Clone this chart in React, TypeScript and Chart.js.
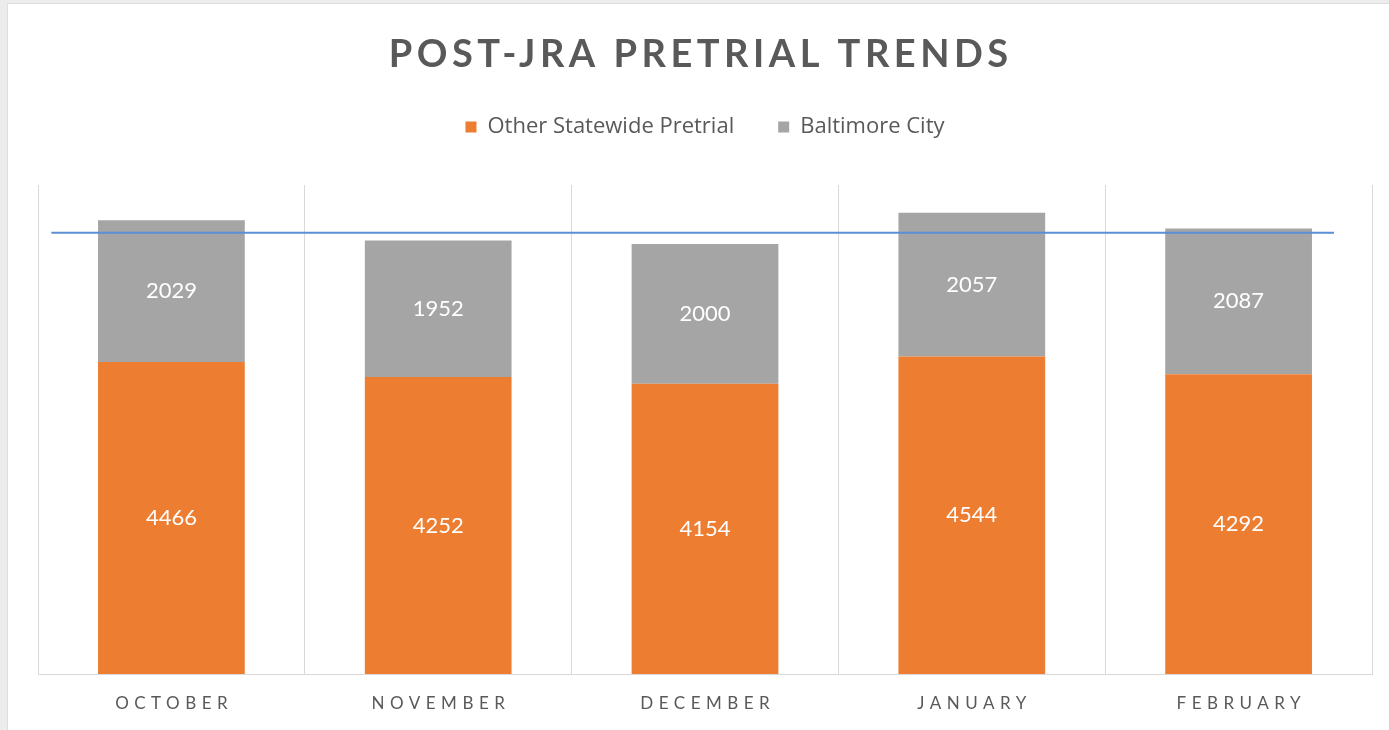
import { useEffect, useRef } from "react";
import { Chart, registerables } from "chart.js";

Chart.register(...registerables);

const TITLE = "POST-JRA PRETRIAL TRENDS";
const MONTHS = ["OCTOBER", "NOVEMBER", "DECEMBER", "JANUARY", "FEBRUARY"];
const SERIES_NAMES = ["Other Statewide Pretrial", "Baltimore City"];
const OTHER_STATEWIDE = [4466, 4252, 4154, 4544, 4292];
const BALTIMORE_CITY = [2029, 1952, 2000, 2057, 2087];
const REFERENCE_LEVEL = 6315;
const Y_MAX = 7000;

const TEXT_COLOR = "#595959";
const FONT = "Lato, 'Open Sans', sans-serif";
const LEGEND_FONT = "'Open Sans', sans-serif";

const legendGapPlugin = {
  id: "legendGap",
  beforeInit(chart: any) {
    const legend = chart.legend;
    if (!legend) return;
    const origFit = legend.fit;
    legend.fit = function () {
      origFit.call(this);
      this.height += 37;
    };
  },
};

const decorPlugin = {
  id: "decor",
  afterDatasetsDraw(chart: any) {
    const ctx = chart.ctx as CanvasRenderingContext2D;
    const ca = chart.chartArea;
    ctx.save();
    ctx.fillStyle = "#ffffff";
    ctx.font = `22px ${FONT}`;
    ctx.textAlign = "center";
    ctx.textBaseline = "middle";
    chart.data.datasets.forEach((ds: any, di: number) => {
      const meta = chart.getDatasetMeta(di);
      meta.data.forEach((bar: any, i: number) => {
        const y = (bar.y + bar.base) / 2;
        ctx.fillText(String(ds.data[i]), bar.x, y);
      });
    });
    const y = chart.scales.y.getPixelForValue(REFERENCE_LEVEL);
    const w = ca.right - ca.left;
    ctx.strokeStyle = "#5a8fd6";
    ctx.lineWidth = 2;
    ctx.beginPath();
    ctx.moveTo(ca.left + w * 0.01, y);
    ctx.lineTo(ca.right - w * 0.0285, y);
    ctx.stroke();
    ctx.restore();
  },
  afterDraw(chart: any) {
    const ctx = chart.ctx as any;
    const ca = chart.chartArea;
    ctx.save();
    ctx.fillStyle = TEXT_COLOR;
    ctx.textAlign = "center";
    ctx.textBaseline = "middle";
    const titleLs = 4.5;
    ctx.letterSpacing = `${titleLs}px`;
    ctx.font = `bold 38px ${FONT}`;
    ctx.fillText(TITLE, chart.width / 2 + titleLs / 2, 51);
    const ls = 5.5;
    ctx.letterSpacing = `${ls}px`;
    ctx.font = `17px ${FONT}`;
    const xs = chart.scales.x;
    (chart.data.labels as string[]).forEach((lab, i) => {
      ctx.fillText(lab, xs.getPixelForValue(i) + ls / 2, ca.bottom + 30);
    });
    ctx.restore();
  },
};

export default function App() {
  const ref = useRef<HTMLCanvasElement>(null);
  useEffect(() => {
    document.body.style.margin = "0";
    document.body.style.background = "#ececec";
    const chart = new Chart(ref.current!, {
      type: "bar",
      data: {
        labels: MONTHS,
        datasets: [
          {
            label: SERIES_NAMES[0],
            data: OTHER_STATEWIDE,
            backgroundColor: "#ed7d31",
            borderWidth: 0,
          },
          {
            label: SERIES_NAMES[1],
            data: BALTIMORE_CITY,
            backgroundColor: "#a5a5a5",
            borderWidth: 0,
          },
        ],
      },
      options: {
        animation: false,
        responsive: false,
        maintainAspectRatio: false,
        layout: { padding: { left: 30, right: 17, top: 68, bottom: 56 } },
        datasets: { bar: { categoryPercentage: 1, barPercentage: 0.55 } },
        plugins: {
          title: { display: false },
          tooltip: { enabled: false },
          legend: {
            display: true,
            position: "top",
            labels: {
              color: TEXT_COLOR,
              font: { family: LEGEND_FONT, size: 22 },
              boxWidth: 11,
              boxHeight: 11,
              padding: 44,
            },
          },
        },
        scales: {
          x: {
            stacked: true,
            grid: { display: true, color: "#d9d9d9", drawTicks: false, offset: true },
            border: { display: true, color: "#d9d9d9" },
            ticks: { display: false },
          },
          y: {
            stacked: true,
            display: false,
            min: 0,
            max: Y_MAX,
          },
        },
      },
      plugins: [legendGapPlugin, decorPlugin],
    } as any);
    return () => chart.destroy();
  }, []);
  return (
    <div
      style={{
        position: "absolute",
        left: 7,
        top: 3,
        width: 1381,
        height: 726,
        background: "#ffffff",
        borderLeft: "1px solid #dedede",
        borderTop: "1px solid #dedede",
      }}
    >
      <canvas ref={ref} width={1381} height={726} style={{ display: "block" }} />
    </div>
  );
}
